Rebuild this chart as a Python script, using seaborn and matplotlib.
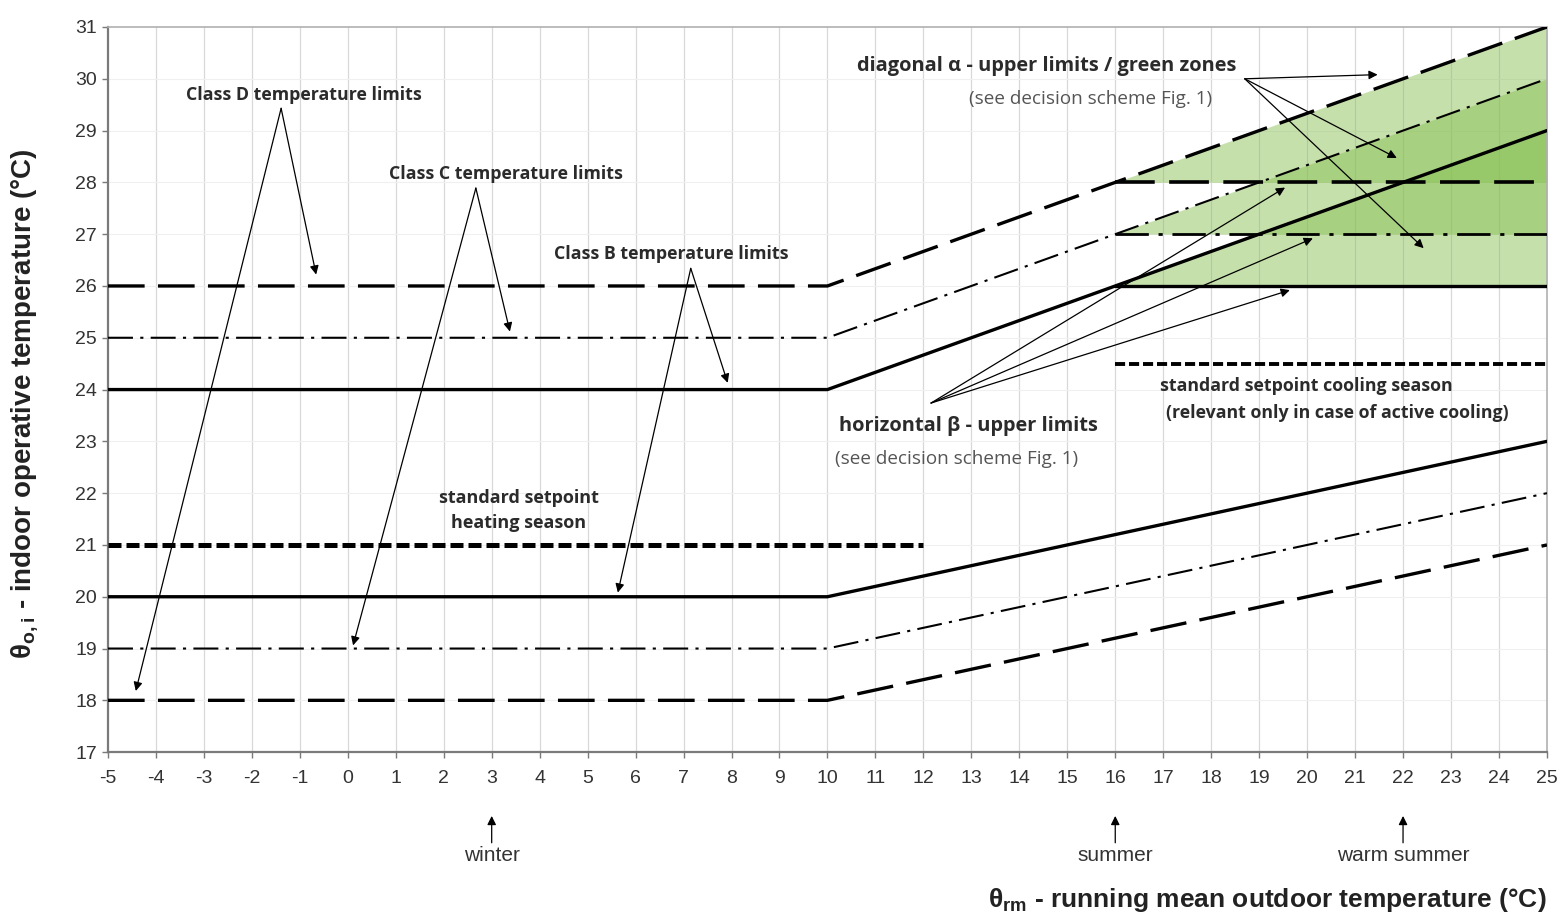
import numpy as np
import pandas as pd
import matplotlib.pyplot as plt
import seaborn as sns

sns.set_theme(style="white")
plt.rcParams["font.family"] = ["Liberation Sans", "DejaVu Sans"]
plt.rcParams["mathtext.default"] = "regular"
plt.rcParams["axes.unicode_minus"] = False

# --- data ------------------------------------------------------------------
x_break = [-5, 10, 25]           # running mean outdoor temperature breakpoints
upper_B = [24, 24, 29]
upper_C = [25, 25, 30]
upper_D = [26, 26, 31]
lower_B = [20, 20, 23]
lower_C = [19, 19, 22]
lower_D = [18, 18, 21]

heat_x, heat_y = [-5, 12], [21, 21]          # standard setpoint heating season
cool_x, cool_y = [16, 25], [24.5, 24.5]      # standard setpoint cooling season

beta_x = [16, 25]                            # horizontal beta upper limits
beta_B, beta_C, beta_D = 26, 27, 28

seasons = {"winter": 3, "summer": 16, "warm summer": 22}
x_ticks = list(range(-5, 26))
y_ticks = list(range(17, 32))

# --- figure -----------------------------------------------------------------
fig = plt.figure(figsize=(15.67, 9.15), dpi=100)
ax = fig.add_axes([0.0689, 0.178, 0.9183, 0.7925])

ax.set_xlim(-5, 25)
ax.set_ylim(17, 31)
ax.set_xticks(x_ticks)
ax.set_yticks(y_ticks)
for xv in x_ticks[1:-1]:
    ax.axvline(xv, color="#d8d8d8", lw=0.9, zorder=0)
for yv in y_ticks[1:-1]:
    ax.axhline(yv, color="#f0f0f0", lw=0.8, zorder=0)

# green zones (diagonal alpha above the horizontal beta limits)
green = "#86bf50"
for top_start, top_end, base in [(upper_D[1] + 2, upper_D[2], beta_D),
                                  (upper_C[1] + 2, upper_C[2], beta_C),
                                  (upper_B[1] + 2, upper_B[2], beta_B)]:
    ax.fill_between(beta_x, [base, base], [top_start, top_end],
                    color=green, alpha=0.47, lw=0, zorder=1)

long_dash = (0, (11, 4))
dash_dot = (0, (12, 3.5, 1.5, 3.5))
short_dash = (0, (2.6, 1.0))

def line(xs, ys, ls, lw):
    sns.lineplot(x=xs, y=ys, ax=ax, color="black", linestyle=ls, lw=lw,
                 zorder=3, sort=False)

line(x_break, upper_B, "-", 2.4)
line(x_break, lower_B, "-", 2.4)
line(x_break, upper_C, dash_dot, 1.5)
line(x_break, lower_C, dash_dot, 1.5)
line(x_break, upper_D, long_dash, 2.4)
line(x_break, lower_D, long_dash, 2.4)

line(beta_x, [beta_B] * 2, "-", 2.4)
line(beta_x, [beta_C] * 2, dash_dot, 2.0)
line(beta_x, [beta_D] * 2, long_dash, 2.6)

line(heat_x, heat_y, short_dash, 3.6)
line(cool_x, cool_y, short_dash, 2.8)

# --- annotations ------------------------------------------------------------
arrow = dict(arrowstyle="-|>", color="black", lw=0.9, mutation_scale=13,
             shrinkA=0, shrinkB=0)
lab = dict(family=["Open Sans", "DejaVu Sans"], fontweight="bold",
           color="#2b2b2b", ha="center", va="center")
sub = dict(family=["Open Sans", "DejaVu Sans"], color="#555555",
           ha="center", va="center")

def fan(apex, tips):
    for t in tips:
        ax.annotate("", xy=t, xytext=apex, arrowprops=arrow, zorder=4)

ax.text(-0.91, 29.68, "Class D temperature limits", fontsize=12.8, **lab)
fan((-1.39, 29.43), [(-0.66, 26.22), (-4.42, 18.18)])

ax.text(3.30, 28.16, "Class C temperature limits", fontsize=12.8, **lab)
fan((2.67, 27.89), [(3.38, 25.12), (0.11, 19.06)])

ax.text(6.74, 26.61, "Class B temperature limits", fontsize=12.8, **lab)
fan((7.15, 26.34), [(7.92, 24.13), (5.63, 20.08)])

ax.text(3.57, 21.66, "standard setpoint\nheating season", fontsize=13,
        linespacing=1.5, **lab)

ax.text(14.57, 30.24, "diagonal α - upper limits / green zones", fontsize=14.4, **lab)
ax.text(15.49, 29.61, "(see decision scheme Fig. 1)", fontsize=13.6, **sub)
fan((18.7, 30.0), [(21.47, 30.08), (21.87, 28.47), (22.43, 26.73)])

ax.text(12.93, 23.29, "horizontal β - upper limits", fontsize=14.4, **lab)
ax.text(12.70, 22.66, "(see decision scheme Fig. 1)", fontsize=13.6, **sub)
fan((12.16, 23.74), [(19.54, 27.9), (20.12, 26.92), (19.64, 25.92)])

ax.text(19.99, 24.07, "standard setpoint cooling season", fontsize=12.8, **lab)
ax.text(20.64, 23.54, "(relevant only in case of active cooling)", fontsize=12.8, **lab)

for name, xv in seasons.items():
    ax.annotate("", xy=(xv, -0.088), xytext=(xv, -0.125),
                xycoords=("data", "axes fraction"),
                textcoords=("data", "axes fraction"),
                arrowprops=arrow, annotation_clip=False)
    ax.text(xv, -0.143, name, transform=ax.get_xaxis_transform(),
            ha="center", va="center", fontsize=15, color="#333333")

# --- axes styling -----------------------------------------------------------
for s in ["left", "bottom"]:
    ax.spines[s].set_color("#7a7a7a")
    ax.spines[s].set_linewidth(1.6)
for s in ["top", "right"]:
    ax.spines[s].set_color("#b0b0b0")
    ax.spines[s].set_linewidth(1.2)

ax.tick_params(axis="both", direction="out", length=4, width=1, color="#7a7a7a",
               labelcolor="#333333")
ax.tick_params(axis="y", labelsize=14, pad=4)
ax.tick_params(axis="x", labelsize=14, pad=9)
ax.tick_params(bottom=True, left=True)

ax.set_ylabel("θ$_{o,i}$ - indoor operative temperature (°C)", fontsize=20,
              fontweight="bold", color="#222222")
ax.yaxis.set_label_coords(-0.047, 0.48)
ax.set_xlabel("")
fig.text(0.987, 0.016, "θ$_{rm}$ - running mean outdoor temperature (°C)",
         ha="right", va="center", fontsize=19, fontweight="bold", color="#222222")

plt.savefig("out.png", dpi=100)
